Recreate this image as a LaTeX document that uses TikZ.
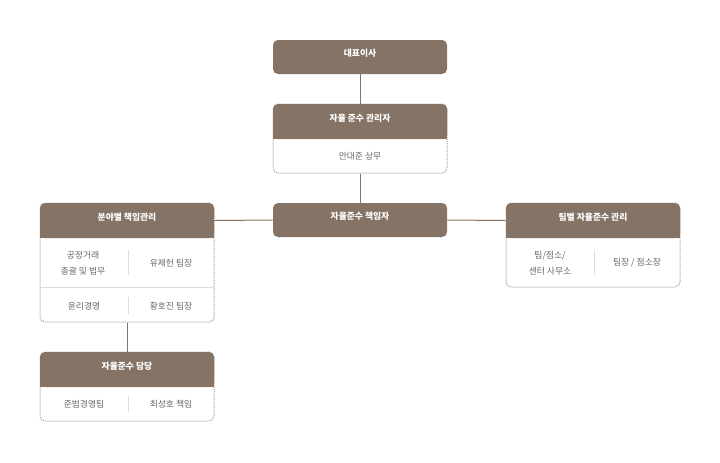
\documentclass[tikz,border=0pt]{standalone}
\usepackage{fontspec}
\setmainfont{Noto Sans CJK KR}
\usetikzlibrary{fit}
\definecolor{hdr}{HTML}{857365}
\definecolor{txt}{HTML}{666666}
\definecolor{dotc}{HTML}{A0A0A0}
\definecolor{divc}{HTML}{DDDDDD}
\begin{document}
\begin{tikzpicture}[x=0.75pt,y=-0.75pt,
 hdrbox/.style={fill=hdr, rounded corners=3.75pt, inner sep=0pt, text=white, font=\fontsize{6.6}{8}\selectfont\bfseries},
 bodybox/.style={draw=dotc, dash pattern=on 0.75pt off 0.75pt, line width=0.75pt, rounded corners=3.75pt, inner sep=0pt},
 celltxt/.style={text=txt, font=\fontsize{6.6}{12.3}\selectfont, align=center, inner sep=0pt},
 link/.style={draw=hdr, line width=0.75pt},
 divider/.style={draw=divc, line width=0.75pt}]
\fill[white] (0,0) rectangle (720,462);
\useasboundingbox (0,0) rectangle (720,462);

% CEO
\node[hdrbox, fit={(273,40)(447,74)}] (ceo) {대표이사};

% compliance manager
\node[bodybox, fit={(273,104)(447,173)}] (mgrbody) {};
\fill[hdr] (273,122) rectangle (447,139);
\node[hdrbox, fit={(273,104)(447,139)}] (mgrh) {자율 준수 관리자};
\node[celltxt] (mgrc) at (360,156) {안대준 상무};

% chief
\node[hdrbox, fit={(273,203)(447,237)}] (chief) {자율준수 책임자};

% field box
\node[bodybox, fit={(40,203)(214,322)}] (fieldbody) {};
\fill[hdr] (40,221) rectangle (214,238);
\node[hdrbox, fit={(40,203)(214,238)}] (fieldh) {분야별 책임관리};
\draw[divider] (40,287) -- (214,287);
\draw[divider] (128,250) -- (128,275);
\draw[divider] (128,297) -- (128,314);
\node[celltxt] (f1) at (83,263) {공정거래\\총괄 및 법무};
\node[celltxt] (f2) at (171,263) {유제헌 팀장};
\node[celltxt] (f3) at (84,306) {윤리경영};
\node[celltxt] (f4) at (171,306) {황호진 팀장};

% duty box
\node[bodybox, fit={(40,352)(214,421)}] (dutybody) {};
\fill[hdr] (40,370) rectangle (214,387);
\node[hdrbox, fit={(40,352)(214,387)}] (dutyh) {자율준수 담당};
\draw[divider] (128,396) -- (128,412);
\node[celltxt] (d1) at (84,404) {준법경영팀};
\node[celltxt] (d2) at (171,404) {최성호 책임};

% team box
\node[bodybox, fit={(506,203)(680,287)}] (teambody) {};
\fill[hdr] (506,221) rectangle (680,238);
\node[hdrbox, fit={(506,203)(680,238)}] (teamh) {팀별 자율준수 관리};
\draw[divider] (594,250) -- (594,275);
\node[celltxt] (t1) at (550,263) {팀/점소/\\센터 사무소};
\node[celltxt] (t2) at (637,263) {팀장 / 점소장};

% connectors
\draw[link] (ceo.south) -- (mgrh.north);
\draw[link] (mgrbody.south) -- (chief.north);
\draw[link] (fieldh.east) -- (chief.west);
\draw[link] (chief.east) -- (teamh.west);
\draw[link] (fieldbody.south) -- (dutyh.north);
\end{tikzpicture}
\end{document}
